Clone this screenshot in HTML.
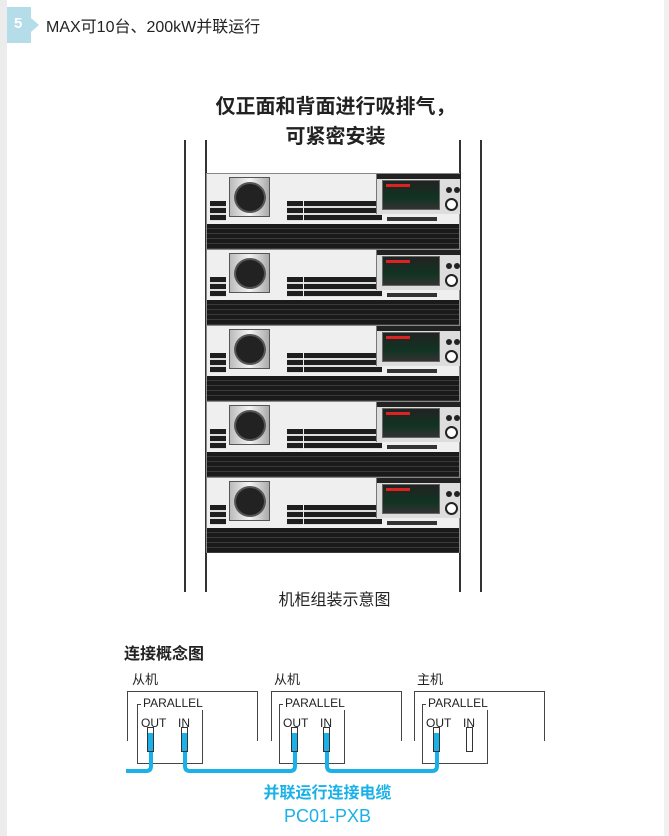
<!DOCTYPE html>
<html><head><meta charset="utf-8"><style>
*{margin:0;padding:0;box-sizing:border-box}
body{width:669px;height:836px;background:#fff;position:relative;overflow:hidden;font-family:"Liberation Sans","Noto Sans CJK SC",sans-serif}
.a{position:absolute}
.u{position:absolute;left:206px;width:254px;height:76px;background:#efefef;border:1px solid #888}
.dk{position:absolute;left:0;top:50px;width:252px;height:25px;background:repeating-linear-gradient(#1a1a1a 0 4px,#3a3a3a 4px 5px)}
.knb{position:absolute;left:22px;top:3px;width:41px;height:40px;background:linear-gradient(90deg,#bbb,#f4f4f4,#aaa);border:1px solid #555}
.knb i{position:absolute;left:4px;top:4px;width:32px;height:31px;border-radius:50%;background:#222;border:2px solid #555}
.st{position:absolute;top:27px;height:20px;background:repeating-linear-gradient(#1e1e1e 0 5px,#ddd 5px 7px)}
.dp{position:absolute;left:169px;top:0;width:84px;height:40px;background:#ddd;border-left:1px solid #777}
.dp .h{position:absolute;left:0;top:0;width:84px;height:5px;background:#222}
.dp .s{position:absolute;left:5px;top:6px;width:58px;height:30px;background:linear-gradient(#222,#132 60%,#333);border:1px solid #666}
.dp .r{position:absolute;left:3px;top:3px;width:24px;height:3px;background:#d22}
.dp .k{position:absolute;width:6px;height:6px;border-radius:50%;background:#222;top:13px}
.dp .b{position:absolute;left:68px;top:24px;width:13px;height:13px;border-radius:50%;border:2px solid #222;background:#fff}
.bar{position:absolute;left:180px;top:43px;width:50px;height:4px;background:#333}
.bx{position:absolute;border:1.5px solid #444;border-bottom:none;height:50px}
.in{position:absolute;border:1.5px solid #444;width:66px;height:60px}
.lbl{position:absolute;font-size:12px;color:#222;background:#fff;padding:0 2px;top:-9px;left:3px}
.oi{position:absolute;font-size:12px;color:#222;top:11px}
.pt{position:absolute;width:7px;height:25px;border:1.5px solid #333;background:linear-gradient(#fff 0 5px,#1ab0e8 5px)}
</style></head><body>
<div class="a" style="left:0;top:0;width:7px;height:836px;background:#ececec"></div>
<div class="a" style="left:664px;top:0;width:5px;height:836px;background:#f1f1f1"></div>
<div class="a" style="left:7px;top:7px;width:32px;height:36px;background:#b5dde9;clip-path:polygon(0 0,24px 0,24px 11px,32px 18px,24px 25px,24px 36px,0 36px)"></div>
<div class="a" style="left:14px;top:15px;color:#fff;font-weight:bold;font-size:15px">5</div>
<div class="a" style="left:46px;top:13px;font-size:16px;color:#222">MAX可10台、200kW并联运行</div>

<div class="a" style="left:0;width:669px;top:92px;text-align:center;font-size:20px;font-weight:bold;line-height:30px;color:#222;padding-left:2px">仅正面和背面进行吸排气，<br>可紧密安装</div>

<div class="a" style="left:184px;top:140px;width:2px;height:452px;background:#333"></div>
<div class="a" style="left:480px;top:140px;width:2px;height:452px;background:#333"></div>
<div class="a" style="left:205px;top:140px;width:2px;height:452px;background:#333"></div>
<div class="a" style="left:459px;top:140px;width:2px;height:452px;background:#333"></div>

<div class="u" style="top:173px"><div class="knb"><i></i></div><div class="st" style="left:3px;width:16px"></div><div class="st" style="left:80px;width:16px"></div><div class="st" style="left:97px;width:78px"></div><div class="dp"><div class="h"></div><div class="s"><div class="r"></div></div><div class="k" style="left:69px"></div><div class="k" style="left:77px"></div><div class="b"></div></div><div class="bar"></div><div class="dk"></div></div>
<div class="u" style="top:249px"><div class="knb"><i></i></div><div class="st" style="left:3px;width:16px"></div><div class="st" style="left:80px;width:16px"></div><div class="st" style="left:97px;width:78px"></div><div class="dp"><div class="h"></div><div class="s"><div class="r"></div></div><div class="k" style="left:69px"></div><div class="k" style="left:77px"></div><div class="b"></div></div><div class="bar"></div><div class="dk"></div></div>
<div class="u" style="top:325px"><div class="knb"><i></i></div><div class="st" style="left:3px;width:16px"></div><div class="st" style="left:80px;width:16px"></div><div class="st" style="left:97px;width:78px"></div><div class="dp"><div class="h"></div><div class="s"><div class="r"></div></div><div class="k" style="left:69px"></div><div class="k" style="left:77px"></div><div class="b"></div></div><div class="bar"></div><div class="dk"></div></div>
<div class="u" style="top:401px"><div class="knb"><i></i></div><div class="st" style="left:3px;width:16px"></div><div class="st" style="left:80px;width:16px"></div><div class="st" style="left:97px;width:78px"></div><div class="dp"><div class="h"></div><div class="s"><div class="r"></div></div><div class="k" style="left:69px"></div><div class="k" style="left:77px"></div><div class="b"></div></div><div class="bar"></div><div class="dk"></div></div>
<div class="u" style="top:477px"><div class="knb"><i></i></div><div class="st" style="left:3px;width:16px"></div><div class="st" style="left:80px;width:16px"></div><div class="st" style="left:97px;width:78px"></div><div class="dp"><div class="h"></div><div class="s"><div class="r"></div></div><div class="k" style="left:69px"></div><div class="k" style="left:77px"></div><div class="b"></div></div><div class="bar"></div><div class="dk"></div></div>

<div class="a" style="left:0;width:669px;top:586px;text-align:center;font-size:16px;color:#222">机柜组装示意图</div>

<div class="a" style="left:124px;top:640px;font-size:16px;font-weight:bold;color:#222">连接概念图</div>
<div class="a" style="left:132px;top:669px;font-size:13px;color:#222">从机</div>
<div class="a" style="left:274px;top:669px;font-size:13px;color:#222">从机</div>
<div class="a" style="left:417px;top:669px;font-size:13px;color:#222">主机</div>

<div class="bx" style="left:127px;top:691px;width:131px"></div>
<div class="bx" style="left:271px;top:691px;width:131px"></div>
<div class="bx" style="left:414px;top:691px;width:131px"></div>

<div class="in" style="left:137px;top:704px;background:#fff"><span class="lbl">PARALLEL</span><span class="oi" style="left:3px">OUT</span><span class="oi" style="left:40px">IN</span></div>
<div class="in" style="left:279px;top:704px;background:#fff"><span class="lbl">PARALLEL</span><span class="oi" style="left:3px">OUT</span><span class="oi" style="left:40px">IN</span></div>
<div class="in" style="left:422px;top:704px;background:#fff"><span class="lbl">PARALLEL</span><span class="oi" style="left:3px">OUT</span><span class="oi" style="left:40px">IN</span></div>

<svg class="a" style="left:0;top:0" width="669" height="836">
<g fill="none" stroke="#1ab0e8" stroke-width="4">
<path d="M126 771 H146 Q151 771 151 766 V745"/>
<path d="M185 745 V766 Q185 771 190 771 H290 Q295 771 295 766 V745"/>
<path d="M327 745 V766 Q327 771 332 771 H432 Q437 771 437 766 V745"/>
</g>
</svg>
<div class="pt" style="left:147px;top:727px"></div>
<div class="pt" style="left:181px;top:727px"></div>
<div class="pt" style="left:291px;top:727px"></div>
<div class="pt" style="left:323px;top:727px"></div>
<div class="pt" style="left:433px;top:727px"></div>
<div class="pt" style="left:466px;top:727px;background:#fff"></div>

<div class="a" style="left:0;width:669px;top:779px;text-align:center;font-size:16px;font-weight:bold;color:#1ab0e8;padding-right:14px">并联运行连接电缆</div>
<div class="a" style="left:0;width:669px;top:806px;text-align:center;font-size:18px;color:#1ab0e8;padding-right:14px">PC01-PXB</div>
</body></html>
